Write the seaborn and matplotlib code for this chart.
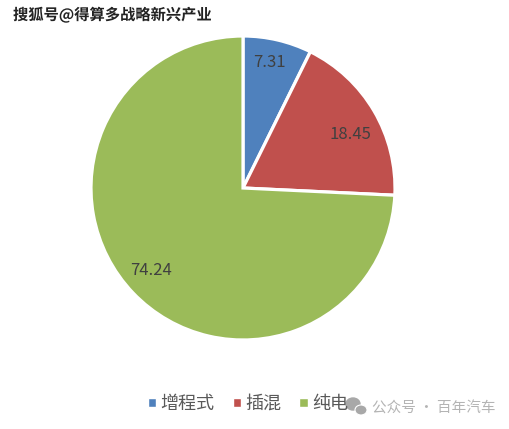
import matplotlib
matplotlib.use("Agg")
import matplotlib.pyplot as plt
import matplotlib.patheffects as pe
from matplotlib.patches import Ellipse, Patch
import seaborn as sns

categories = ["增程式", "插混", "纯电"]
shares = [7.31, 18.45, 74.24]
colors = ["#4F81BD", "#C0504D", "#9BBB59"]

sns.set_theme(style="white", palette=sns.color_palette(colors))
plt.rcParams['font.family'] = ['Noto Sans CJK SC', 'DejaVu Sans']

fig = plt.figure(figsize=(5.10, 4.29), dpi=100)

# pie axes, 152 px radius around (243, 188)
ax = fig.add_axes([(243 - 152) / 510, 1 - (188 + 152) / 429, 304 / 510, 304 / 429])
wedges, texts, pcts = ax.pie(shares, colors=sns.color_palette(n_colors=3), startangle=90, counterclock=False,
                             radius=1, autopct="%.2f", pctdistance=0.83,
                             wedgeprops={"edgecolor": "white", "linewidth": 2.3},
                             textprops={"fontsize": 12, "color": "#404040"})
ax.set_xlim(-1, 1)
ax.set_ylim(-1, 1)

# nudge the value labels to where they sit in the original (px)
nudges = [(-2, 3), (-1, -10), (-1, 5)]
for t, (dx, dy) in zip(pcts, nudges):
    x, y = t.get_position()
    t.set_position((x + dx / 152, y + dy / 152))

# overlay in pixel coordinates for the watermarks
ov = fig.add_axes([0, 0, 1, 1], facecolor="none")
ov.set_xlim(0, 510)
ov.set_ylim(429, 0)
ov.axis("off")

ov.text(13, 15, "搜狐号@得算多战略新兴产业", fontsize=11, color="#222222", va="center", ha="left",
        fontweight="bold", path_effects=[pe.withStroke(linewidth=2, foreground="white")])

ov.add_patch(Ellipse((353, 404), 14, 12, color="#a8a8a8", zorder=3))
ov.add_patch(Ellipse((361, 410), 12, 10, color="#a8a8a8", ec="white", lw=0.8, zorder=4))
ov.text(372, 409, "公众号 · 百年汽车", fontsize=10.5, color="#b4b4b4", va="center", ha="left")

handles = [Patch(facecolor=c, label=n) for c, n in zip(colors, categories)]
fig.legend(handles=handles, loc="center left", bbox_to_anchor=(148 / 510, 1 - 404 / 429), ncol=3, frameon=False,
           fontsize=13, labelcolor="#595959", handlelength=0.45, handleheight=0.45,
           handletextpad=0.25, columnspacing=1.0, borderpad=0, borderaxespad=0)

fig.savefig("out.png", dpi=100)
